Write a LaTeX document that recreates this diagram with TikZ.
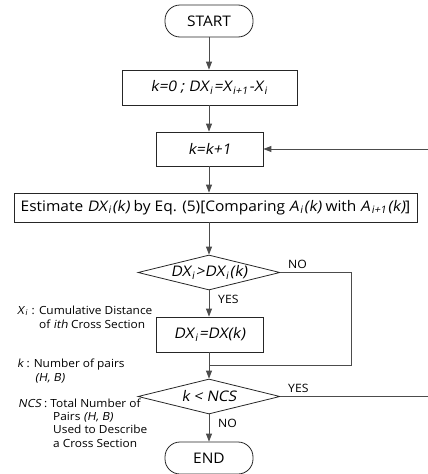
\documentclass[tikz,border=0pt]{standalone}
\usepackage{fontspec}
\setmainfont{Open Sans}[FakeStretch=1.06, ItalicFont={Open Sans}, ItalicFeatures={FakeSlant=0.18}]
\usetikzlibrary{arrows.meta,shapes.geometric,calc}
\newcommand{\sbs}[1]{\kern1pt\textsubscript{#1}\kern1pt}
\begin{document}
\begin{tikzpicture}[x=1pt,y=-1pt,
  font=\fontsize{14.6}{17}\selectfont,
  box/.style={draw=black!85, line width=0.8pt, inner sep=0pt},
  term/.style={draw=black!85, line width=0.8pt, rounded corners=15pt, minimum width=88pt, minimum height=32pt, inner sep=0pt},
  dec/.style={draw=black!85, line width=0.8pt, diamond, aspect=4, inner sep=0pt, minimum width=142pt, minimum height=35pt},
  conn/.style={draw=black!70, line width=0.9pt},
  arr/.style={conn, -{Triangle[length=8pt,width=6pt]}},
  lbl/.style={inner sep=0pt, font=\fontsize{11.5}{13}\selectfont},
  note/.style={inner sep=0pt, anchor=base west, font=\fontsize{11.2}{13}\selectfont}]
\useasboundingbox (0,0) rectangle (428,474);

\node[term] (start) at (209,21) {START};
\node[box, minimum width=175pt, minimum height=35pt] (init) at (209.5,87.5) {\textit{k=0 ; DX\sbs{i}=X\sbs{i+1}-X\sbs{i}}};
\node[box, minimum width=107pt, minimum height=34pt] (inc) at (209.5,149) {\textit{k=k+1}};
\node[box, minimum width=403pt, minimum height=29pt] (est) at (215.5,207.5) {Estimate \textit{DX\sbs{i}(k)} by Eq. (5)[Comparing \textit{A\sbs{i}(k)} with \textit{A\sbs{i+1}(k)}]};
\node[dec] (d1) at (209,272.5) {\textit{DX\sbs{i}>DX\sbs{i}(k)}};
\node[box, minimum width=107pt, minimum height=35pt] (upd) at (209.5,334.5) {\textit{DX\sbs{i}=DX(k)}};
\node[dec] (d2) at (209,396.5) {\textit{k < NCS}};
\node[term] (end) at (209,458) {END};

\coordinate (rn) at (351,365);
\coordinate (ry) at (432,396.5);

\draw[arr] (start.south) -- (start.south |- init.north);
\draw[arr] (init.south -| start.south) -- (start.south |- inc.north);
\draw[arr] (inc.south -| start.south) -- (start.south |- est.north);
\draw[arr] (est.south -| d1.north) -- (d1.north);
\draw[arr] (d1.south) -- (d1.south |- upd.north);
\draw[conn] (d1.east) -| (rn) -- (rn -| d1.south);
\draw[arr] (upd.south -| d2.north) -- (d2.north);
\draw[arr] (d2.south) -- (end.north);
\draw[arr] (d2.east) -- (ry) |- (inc.east);

\node[lbl, anchor=west] (no1) at (288,264) {NO};
\node[lbl, anchor=west] (yes1) at (218,299) {YES};
\node[lbl, anchor=west] (yes2) at (288,388) {YES};
\node[lbl, anchor=west] (no2) at (218,423) {NO};

\node[note] (n1) at (17,314) {\textit{X\sbs{i}} : Cumulative Distance};
\node[note] (n2) at (39,328) {of \textit{ith} Cross Section};
\node[note] (n3) at (17,367) {\textit{k} : Number of pairs};
\node[note] (n4) at (35,381) {\textit{(H, B)}};
\node[note] (n5) at (18,407) {\textit{NCS} : Total Number of};
\node[note] (n6) at (53,420) {Pairs \textit{(H, B)}};
\node[note] (n7) at (53,433) {Used to Describe};
\node[note] (n8) at (53,447) {a Cross Section};
\end{tikzpicture}
\end{document}
